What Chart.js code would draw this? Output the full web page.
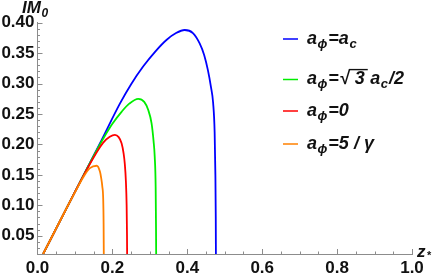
<!DOCTYPE html>
<html>
<head>
<meta charset="utf-8">
<script src="https://cdn.jsdelivr.net/npm/chart.js@4"></script>
<style>
  html,body{margin:0;padding:0;background:#fff;}
  #wrap{width:433px;height:273px;}
</style>
</head>
<body>
<div id="wrap"><canvas id="chart" width="433" height="273"></canvas></div>
<script>
// values (z*, IM0)
const blueZ   = [0.015,0.10,0.167,0.22,0.25,0.282,0.315,0.345,0.37,0.393,0.415,0.433,0.445,0.455,0.463,0.469,0.473,0.475,0.476,0.4765];
const blueM   = [0.02,0.122,0.202,0.267,0.299,0.328,0.353,0.372,0.383,0.388,0.383,0.366,0.347,0.322,0.295,0.268,0.22,0.15,0.08,0.0];
const greenZ  = [0.015,0.10,0.15,0.175,0.20,0.225,0.245,0.269,0.285,0.2955,0.3045,0.310,0.313,0.3155,0.3165,0.317];
const greenM  = [0.02,0.122,0.181,0.209,0.234,0.254,0.267,0.275,0.270,0.257,0.235,0.205,0.180,0.13,0.06,0.0];
const redZ    = [0.015,0.10,0.13,0.155,0.1755,0.193,0.2067,0.2167,0.2245,0.23,0.233,0.236,0.238,0.239,0.2395];
const redM    = [0.02,0.122,0.157,0.184,0.203,0.2125,0.2157,0.212,0.202,0.185,0.169,0.14,0.10,0.05,0.0];
const orangeZ = [0.015,0.08,0.105,0.125,0.14,0.158,0.1667,0.170,0.173,0.1755,0.1765,0.177,0.1772];
const orangeM = [0.02,0.098,0.127,0.149,0.161,0.165,0.1555,0.145,0.131,0.109,0.07,0.02,0.0];

const xTicks = [0.0,0.2,0.4,0.6,0.8,1.0];
const yTicks = [0.05,0.10,0.15,0.20,0.25,0.30,0.35,0.40];

// legend entries: runs of text, sub = subscript, over = sqrt bar
const legendRows = [
  { color:'#0000ff', runs:[{t:'a'},{t:'\u03d5',sub:1},{t:'=a'},{t:'c',sub:1}] },
  { color:'#00ee00', runs:[{t:'a'},{t:'\u03d5',sub:1},{t:'='},{t:'\u221a'},{t:' 3 ',over:1},{t:'a'},{t:'c',sub:1},{t:'/2'}] },
  { color:'#ff0000', runs:[{t:'a'},{t:'\u03d5',sub:1},{t:'=0'}] },
  { color:'#ff8000', runs:[{t:'a'},{t:'\u03d5',sub:1},{t:'=5 / \u03b3'}] },
];

const FONT = '"Liberation Sans", Arial, sans-serif';
const pts = (xs,ys)=>xs.map((x,i)=>({x, y:ys[i]}));

function drawRuns(ctx, runs, x, base, size){
  runs.forEach(r=>{
    const s = r.sub ? Math.round(size*0.7) : size;
    ctx.font = `italic bold ${s}px ${FONT}`;
    const yb = r.sub ? base+4 : base;
    ctx.fillText(r.t, x, yb);
    const w = ctx.measureText(r.t).width;
    if (r.over){
      ctx.save(); ctx.strokeStyle=ctx.fillStyle; ctx.lineWidth=1.4;
      ctx.beginPath(); ctx.moveTo(x-1, base-size*0.8); ctx.lineTo(x+w-2, base-size*0.8); ctx.stroke();
      ctx.restore();
    }
    x += w + (r.sub ? 1 : 0.5);
  });
}

const decor = {
  id:'decor',
  afterDraw(chart){
    const {ctx, scales:{x, y}, chartArea:a} = chart;
    ctx.save();
    // inward ticks, Mathematica style
    ctx.strokeStyle='#8c8c8c'; ctx.lineWidth=1;
    for (let i=2;i<=40;i++){
      const v=i/100, py=Math.round(y.getPixelForValue(v))+0.5;
      const len = i%5===0 ? 5 : 2.5;
      ctx.beginPath(); ctx.moveTo(a.left, py); ctx.lineTo(a.left+len, py); ctx.stroke();
    }
    for (let i=1;i<=20;i++){
      const v=i/20, px=Math.round(x.getPixelForValue(v))+0.5;
      const len = i%4===0 ? 5 : 2.5;
      ctx.beginPath(); ctx.moveTo(px, a.bottom); ctx.lineTo(px, a.bottom-len); ctx.stroke();
    }
    // axis titles
    ctx.fillStyle='#111'; ctx.textBaseline='alphabetic'; ctx.textAlign='left';
    drawRuns(ctx, [{t:'IM'},{t:'0',sub:1}], 22, 13, 17);
    ctx.font=`italic bold 17px ${FONT}`; ctx.fillText('z', 417, 257);
    ctx.font=`bold 11px ${FONT}`; ctx.fillText('*', 427, 259);
    // legend
    const rowY=[39,79.5,111,144];
    legendRows.forEach((row,i)=>{
      ctx.strokeStyle=row.color; ctx.lineWidth=1.5;
      ctx.beginPath(); ctx.moveTo(283, rowY[i]); ctx.lineTo(298, rowY[i]); ctx.stroke();
      ctx.fillStyle='#111';
      drawRuns(ctx, row.runs, 307, rowY[i]+4.5, 18);
    });
    ctx.restore();
  }
};

const ds = (label, xs, ys, color, order)=>({
  label, data:pts(xs,ys), borderColor:color, borderWidth:1.8,
  pointRadius:0, fill:false, cubicInterpolationMode:'monotone', order
});

new Chart(document.getElementById('chart'), {
  type:'line',
  data:{ datasets:[
    ds('blue',   blueZ,   blueM,   '#0000ff', 4),
    ds('green',  greenZ,  greenM,  '#00ee00', 3),
    ds('red',    redZ,    redM,    '#ff0000', 2),
    ds('orange', orangeZ, orangeM, '#ff8000', 1),
  ]},
  options:{
    responsive:false, animation:false, devicePixelRatio:1,
    layout:{ padding:{ left:0, right:21, top:22.7, bottom:0 } },
    plugins:{ legend:{display:false}, tooltip:{enabled:false} },
    scales:{
      x:{
        type:'linear', min:0, max:1.0,
        grid:{display:false, drawTicks:false},
        border:{display:true, color:'#8c8c8c', width:1},
        afterBuildTicks:s=>{ s.ticks = xTicks.map(v=>({value:v})); },
        afterFit:s=>{ s.height = 19; },
        ticks:{ padding:4, maxRotation:0, autoSkip:false, color:'#111',
          font:{family:FONT, size:17, weight:'bold'}, callback:v=>v.toFixed(1) }
      },
      y:{
        type:'linear', min:0.02, max:0.40,
        grid:{display:false, drawTicks:false},
        border:{display:true, color:'#8c8c8c', width:1},
        afterBuildTicks:s=>{ s.ticks = yTicks.map(v=>({value:v})); },
        afterFit:s=>{ s.width = 37.5; },
        ticks:{ padding:3, autoSkip:false, color:'#111',
          font:{family:FONT, size:17, weight:'bold'}, callback:v=>v.toFixed(2) }
      }
    }
  },
  plugins:[decor]
});
</script>
</body>
</html>
